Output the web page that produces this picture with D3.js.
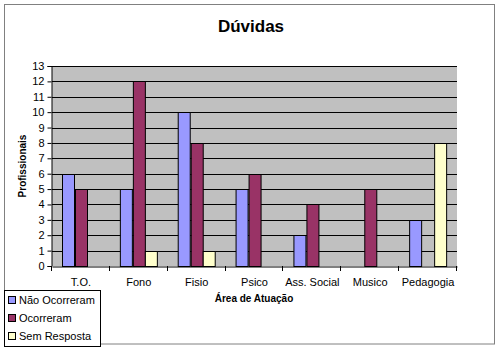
<!DOCTYPE html>
<html>
<head>
<meta charset="utf-8">
<script src="https://cdn.jsdelivr.net/npm/d3@7"></script>
<style>
  html, body { margin: 0; padding: 0; background: #fff; }
  svg { display: block; font-family: "Liberation Sans", Arial, sans-serif; }
</style>
</head>
<body>
<svg id="chart" width="501" height="350"></svg>
<script>
// Áreas de atuação (categorias do eixo X)
const categories = ["T.O.", "Fono", "Fisio", "Psico", "Ass. Social", "Musico", "Pedagogia"];
// Séries
const seriesNames = ["Não Ocorreram", "Ocorreram", "Sem Resposta"];
const naoOcorreram = [6, 5, 10, 5, 2, 0, 3];
const ocorreram    = [5, 12, 8, 6, 4, 5, 0];
const semResposta  = [0, 1, 1, 0, 0, 0, 8];
const yTicks = d3.range(0, 14);
const seriesColors = ["#9999FF", "#993366", "#FFFFCC"];

const seriesValues = [naoOcorreram, ocorreram, semResposta];
const svg = d3.select("#chart");

// Moldura do gráfico
svg.append("rect")
  .attr("x", 4.5).attr("y", 4.5).attr("width", 490).attr("height", 339.5)
  .attr("fill", "#fff").attr("stroke", "#808080").attr("stroke-width", 1);

const plot = { left: 52, top: 66, right: 457, bottom: 266 };

const x = d3.scaleBand().domain(categories).range([plot.left, plot.right]).padding(0);
const inner = d3.scaleBand().domain(seriesNames)
  .range([0, x.bandwidth()]).paddingInner(0).paddingOuter(0.83);
const y = d3.scaleLinear().domain([0, 13]).range([plot.bottom, plot.top]);

// Área de plotagem
svg.append("rect")
  .attr("x", plot.left).attr("y", plot.top)
  .attr("width", plot.right - plot.left).attr("height", plot.bottom - plot.top)
  .attr("fill", "#C0C0C0");

// Linhas de grade
svg.append("g").selectAll("line").data(yTicks.filter(d => d > 0)).join("line")
  .attr("x1", plot.left).attr("x2", plot.right)
  .attr("y1", d => Math.round(y(d)) + 0.5).attr("y2", d => Math.round(y(d)) + 0.5)
  .attr("stroke", "#000").attr("stroke-width", 1);

// Barras
const rows = categories.map((c, i) => ({ cat: c, vals: seriesValues.map((s, k) => ({ name: seriesNames[k], v: s[i], k })) }));
const groups = svg.append("g").selectAll("g").data(rows).join("g")
  .attr("transform", d => `translate(${x(d.cat)},0)`);
groups.selectAll("rect").data(d => d.vals.filter(v => v.v > 0)).join("rect")
  .attr("x", d => Math.round(inner(d.name)) + 0.5)
  .attr("y", d => Math.round(y(d.v)) + 0.5)
  .attr("width", Math.round(inner.bandwidth()))
  .attr("height", d => Math.round(y(0)) - Math.round(y(d.v)))
  .attr("fill", d => seriesColors[d.k])
  .attr("stroke", "#000").attr("stroke-width", 1);

// Eixo Y
const yAxis = d3.axisLeft(y).tickValues(yTicks).tickSize(4).tickPadding(3).tickFormat(d3.format("d"));
const gy = svg.append("g").attr("transform", `translate(${plot.left - 0.5},0)`).call(yAxis);
gy.select(".domain").attr("stroke", "#000");
gy.selectAll(".tick line").attr("stroke", "#000");
gy.selectAll(".tick text").attr("font-size", 11).attr("fill", "#000")
  .attr("font-family", "Liberation Sans, Arial, sans-serif");

// Eixo X
const xAxis = d3.axisBottom(x).tickSize(0).tickPadding(12);
const gx = svg.append("g").attr("transform", `translate(0,${plot.bottom + 0.5})`).call(xAxis);
gx.select(".domain").attr("stroke", "#000");
gx.selectAll(".tick text").attr("font-size", 11).attr("fill", "#000")
  .attr("font-family", "Liberation Sans, Arial, sans-serif");
// Marcas entre categorias
svg.append("g").selectAll("line").data(d3.range(categories.length + 1)).join("line")
  .attr("x1", i => Math.round(plot.left + i * x.step()) - 0.5)
  .attr("x2", i => Math.round(plot.left + i * x.step()) - 0.5)
  .attr("y1", plot.bottom).attr("y2", plot.bottom + 5)
  .attr("stroke", "#000");

// Título
svg.append("text").attr("x", 251).attr("y", 32).attr("text-anchor", "middle")
  .attr("font-size", 17).attr("font-weight", "bold").text("Dúvidas");

// Títulos dos eixos
svg.append("text").attr("transform", "translate(26,166) rotate(-90)")
  .attr("text-anchor", "middle").attr("font-size", 10).attr("font-weight", "bold")
  .text("Profissionais");
svg.append("text").attr("x", 254).attr("y", 302).attr("text-anchor", "middle")
  .attr("font-size", 10).attr("font-weight", "bold").text("Área de Atuação");

// Legenda
const legend = svg.append("g");
legend.append("rect").attr("x", 4.5).attr("y", 290.5).attr("width", 96).attr("height", 56)
  .attr("fill", "#fff").attr("stroke", "#000");
const li = legend.selectAll("g.item").data(seriesNames).join("g").attr("class", "item")
  .attr("transform", (d, i) => `translate(8,${300 + i * 18})`);
li.append("rect").attr("x", 0.5).attr("y", -3.5).attr("width", 7).attr("height", 7)
  .attr("fill", (d, i) => seriesColors[i]).attr("stroke", "#000");
li.append("text").attr("x", 11).attr("y", 4).attr("font-size", 11).text(d => d);
</script>
</body>
</html>
